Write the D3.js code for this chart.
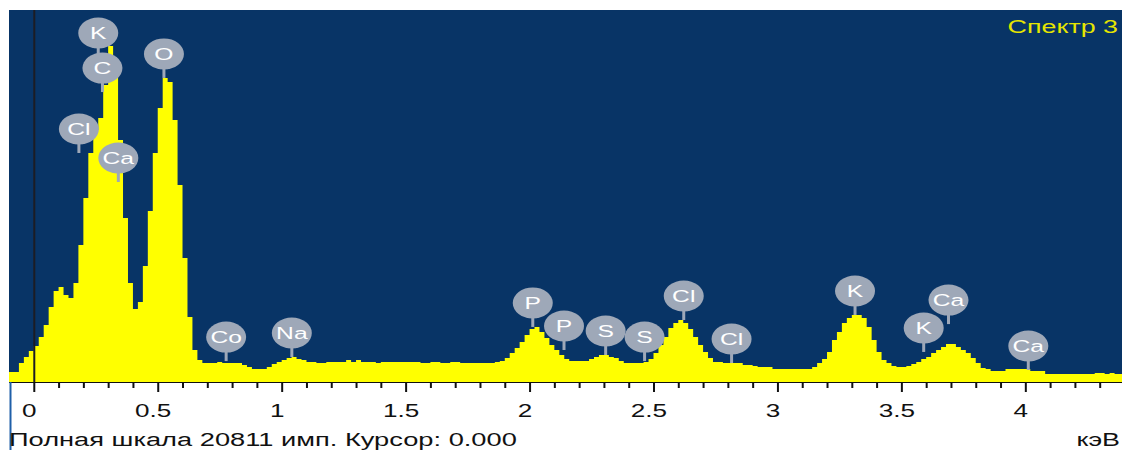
<!DOCTYPE html>
<html>
<head>
<meta charset="utf-8">
<script src="https://cdn.jsdelivr.net/npm/d3@7"></script>
<style>
  body { margin: 0; background: #fff; }
  svg { display: block; font-family: 'Liberation Sans', Arial, sans-serif; }
</style>
</head>
<body>
<div id="chart"></div>
<script>
// spectrum channels: 0.02 keV wide, first channel starts at -0.10 keV
const channelStart = -0.10
const channelWidth = 0.02
const counts = [
  560, 560, 1060, 1400, 1730, 2010, 2520, 3190, 4200, 5090,
  5310, 4870, 4700, 5540, 7660, 10290, 12810, 14100, 14770, 16610,
  18800, 17450, 13540, 9170, 5540, 4080, 4480, 6490, 9570, 12810,
  15330, 17010, 16780, 14660, 11020, 6940, 3640, 1790, 1230, 1060,
  1060, 1060, 1120, 1060, 1060, 1060, 1060, 950, 840, 730,
  730, 730, 840, 1010, 1120, 1230, 1340, 1400, 1290, 1230,
  1120, 1120, 1060, 1060, 1120, 1120, 1120, 1120, 1230, 1120,
  1230, 1120, 1120, 1120, 1060, 1120, 1120, 1120, 1120, 1120,
  1120, 1120, 1120, 1060, 1060, 1120, 1120, 1060, 1060, 1120,
  1120, 1060, 1060, 1060, 1060, 1060, 1060, 1060, 1120, 1170,
  1340, 1620, 1900, 2240, 2630, 2960, 3080, 2800, 2460, 2070,
  1790, 1510, 1290, 1170, 1170, 1170, 1170, 1290, 1400, 1510,
  1510, 1400, 1340, 1170, 1060, 1060, 1060, 1060, 1120, 1290,
  1620, 2070, 2520, 3020, 3300, 3470, 3300, 2960, 2520, 2070,
  1680, 1340, 1120, 1120, 1060, 1060, 1060, 1060, 950, 950,
  900, 840, 840, 840, 730, 730, 730, 730, 730, 730,
  730, 730, 840, 1060, 1290, 1680, 2350, 2800, 3300, 3580,
  3750, 3750, 3580, 3080, 2350, 1680, 1230, 1060, 900, 840,
  840, 900, 1010, 1120, 1290, 1400, 1620, 1790, 1960, 2130,
  2130, 1960, 1790, 1620, 1340, 1060, 780, 730, 620, 620,
  620, 730, 730, 730, 730, 730, 620, 620, 620, 450,
  450, 450, 450, 450, 450, 450, 450, 450, 450, 500,
  500, 450, 500, 450, 450
]

// peak markers: element, line energy (keV), level the stem points at (counts)
const markerNames = ['Cl', 'K', 'C', 'Ca', 'O', 'Co', 'Na', 'P', 'P', 'S', 'S', 'Cl', 'Cl', 'K', 'K', 'Ca', 'Ca']
const markerEnergy = [0.182, 0.260, 0.277, 0.341, 0.525, 0.776, 1.041, 2.013, 2.139, 2.307, 2.464, 2.622, 2.815, 3.313, 3.590, 3.690, 4.012]
const markerLevel = [12810, 18180, 16220, 11190, 17010, 1170, 1400, 3080, 1790, 1510, 1170, 3470, 1060, 3750, 1680, 3240, 670]

const majorTicks = [0, 0.5, 1, 1.5, 2, 2.5, 3, 3.5, 4]
const tickLabels = ['0', '0.5', '1', '1.5', '2', '2.5', '3', '3.5', '4']
const fullScale = 20811
const spectrumTitle = 'Спектр 3'
const footerText = 'Полная шкала 20811 имп. Курсор: 0.000'
const unitText = 'кэВ'

const width = 1122
const height = 450
const plot = { left: 9, top: 10, right: 1122, bottom: 382 }
const stretch = 1.45 // the screen capture is widened horizontally, so is its text

const svg = d3.select('#chart')
  .append('svg')
  .attr('width', width)
  .attr('height', height)

const x = d3.scaleLinear()
  .domain([-0.1, 4.39])
  .range([plot.left, plot.right])
const y = d3.scaleLinear()
  .domain([0, fullScale])
  .range([plot.bottom, plot.top])

function wideText (parent, tx, ty, str, anchor, size, color) {
  return parent.append('g')
    .attr('transform', `translate(${tx},${ty}) scale(${stretch},1)`)
    .append('text')
    .attr('text-anchor', anchor)
    .attr('fill', color)
    .style('font-size', size + 'px')
    .text(str)
}

svg.append('defs')
  .append('clipPath')
  .attr('id', 'plot-clip')
  .append('rect')
  .attr('x', plot.left)
  .attr('y', plot.top)
  .attr('width', plot.right - plot.left)
  .attr('height', plot.bottom - plot.top)

svg.append('rect')
  .attr('x', plot.left)
  .attr('y', plot.top)
  .attr('width', plot.right - plot.left)
  .attr('height', plot.bottom - plot.top)
  .attr('fill', '#083466')

const spectrum = counts.map((c, i) => ({ e: channelStart + i * channelWidth, c }))
spectrum.push({ e: channelStart + counts.length * channelWidth, c: counts[counts.length - 1] })

const area = d3.area()
  .curve(d3.curveStepAfter)
  .x(d => x(d.e))
  .y0(y(0))
  .y1(d => y(d.c))

svg.append('path')
  .datum(spectrum)
  .attr('clip-path', 'url(#plot-clip)')
  .attr('d', area)
  .attr('fill', '#ffff00')

// cursor at 0 keV
svg.append('line')
  .attr('x1', x(0) + 0.5)
  .attr('x2', x(0) + 0.5)
  .attr('y1', plot.top)
  .attr('y2', plot.bottom)
  .attr('stroke', '#1c1c24')
  .attr('stroke-width', 2)

wideText(svg, plot.right - 4, 33, spectrumTitle, 'end', 18.5, '#e6e600')

// peak markers
const markers = svg.append('g')
  .classed('markers', true)
  .selectAll('g')
  .data(markerNames.map((name, i) => ({ name, e: markerEnergy[i], level: markerLevel[i] })))
  .enter()
  .append('g')
  .attr('transform', d => `translate(${x(d.e)},${y(d.level)})`)

markers.append('line')
  .attr('y1', 0)
  .attr('y2', -12)
  .attr('stroke', '#9ea8b8')
  .attr('stroke-width', 3)
markers.append('ellipse')
  .attr('cy', -24)
  .attr('rx', 20)
  .attr('ry', 15.5)
  .attr('fill', '#9ea8b8')
markers.each(function (d) {
  wideText(d3.select(this), 0, -24, d.name, 'middle', 17, '#fff')
    .attr('dy', '0.36em')
})

// axis
const minorTicks = d3.range(1, 44).map(d => d / 10).filter(d => !majorTicks.includes(d))

svg.append('g')
  .attr('transform', `translate(0,${plot.bottom})`)
  .call(d3.axisBottom(x).tickValues(minorTicks).tickSize(6).tickFormat('').tickSizeOuter(0))
  .call(g => g.select('.domain').remove())
  .call(g => g.selectAll('.tick line').attr('stroke', '#111').attr('stroke-width', 2))

const xAxis = svg.append('g')
  .attr('transform', `translate(0,${plot.bottom})`)
  .call(d3.axisBottom(x).tickValues(majorTicks).tickSize(10).tickSizeOuter(0).tickFormat(''))
xAxis.select('.domain')
  .attr('d', `M${plot.left},0.5H${plot.right}`)
  .attr('stroke', '#111')
xAxis.selectAll('.tick line').attr('stroke', '#111').attr('stroke-width', 2)
xAxis.selectAll('.tick')
  .each(function (d, i) {
    wideText(d3.select(this), -5, 35, tickLabels[i], 'middle', 18, '#111')
  })

svg.append('line')
  .attr('x1', plot.left + 1.5)
  .attr('x2', plot.left + 1.5)
  .attr('y1', plot.bottom)
  .attr('y2', height)
  .attr('stroke', '#1f5fa8')
  .attr('stroke-width', 2)

wideText(svg, plot.left, 446, footerText, 'start', 18.8, '#111')
wideText(svg, plot.right - 2, 446, unitText, 'end', 18.5, '#111')
</script>
</body>
</html>
